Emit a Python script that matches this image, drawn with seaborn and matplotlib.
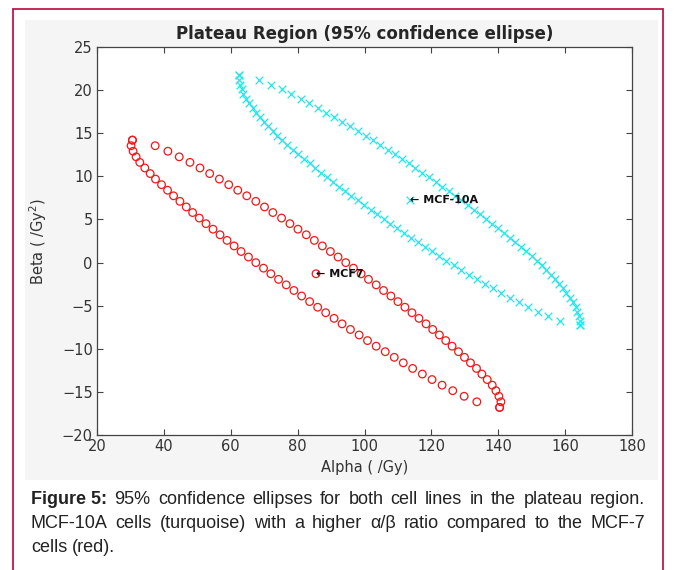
import matplotlib
matplotlib.use("Agg")
import matplotlib.pyplot as plt
from matplotlib.lines import Line2D
from matplotlib.patches import Rectangle
import seaborn as sns

# ---- data (95% confidence ellipse outlines) ----
mcf7_beta = [-16.80, -16.15, -15.51, -14.86, -14.22, -13.57, -12.93, -12.28, -11.63, -10.99,
             -10.34, -9.70, -9.05, -8.40, -7.76, -7.11, -6.47, -5.82, -5.18, -4.53,
             -3.88, -3.24, -2.59, -1.95, -1.30, -0.65, -0.01, 0.64, 1.28, 1.93,
             2.57, 3.22, 3.87, 4.51, 5.16, 5.80, 6.45, 7.10, 7.74, 8.39,
             9.03, 9.68, 10.32, 10.97, 11.62, 12.26, 12.91, 13.55, 14.20]
mcf7_alpha_left = [140.4, 133.6, 129.8, 126.4, 123.2, 120.2, 117.3, 114.4, 111.6, 108.9,
                   106.2, 103.5, 100.9, 98.4, 95.8, 93.3, 90.9, 88.4, 86.0, 83.6,
                   81.2, 78.9, 76.6, 74.3, 72.0, 69.8, 67.5, 65.3, 63.1, 61.0,
                   58.9, 56.8, 54.7, 52.6, 50.6, 48.6, 46.7, 44.8, 42.9, 41.1,
                   39.3, 37.5, 35.9, 34.3, 32.8, 31.7, 30.8, 30.2, 30.6]
mcf7_alpha_right = [140.4, 140.8, 140.2, 139.3, 138.2, 136.7, 135.1, 133.5, 131.7, 129.9,
                    128.1, 126.2, 124.3, 122.4, 120.4, 118.4, 116.3, 114.2, 112.1, 110.0,
                    107.9, 105.7, 103.5, 101.2, 99.0, 96.7, 94.4, 92.1, 89.8, 87.4,
                    85.0, 82.6, 80.1, 77.7, 75.2, 72.6, 70.1, 67.5, 64.8, 62.1,
                    59.4, 56.6, 53.7, 50.8, 47.8, 44.6, 41.2, 37.4, 30.6]

mcf10a_beta = [-7.30, -6.76, -6.23, -5.69, -5.15, -4.61, -4.08, -3.54, -3.00, -2.47,
               -1.93, -1.39, -0.86, -0.32, 0.22, 0.76, 1.29, 1.83, 2.37, 2.90,
               3.44, 3.98, 4.51, 5.05, 5.59, 6.13, 6.66, 7.20, 7.74, 8.27,
               8.81, 9.35, 9.89, 10.42, 10.96, 11.50, 12.03, 12.57, 13.11, 13.64,
               14.18, 14.72, 15.26, 15.79, 16.33, 16.87, 17.40, 17.94, 18.48, 19.01,
               19.55, 20.09, 20.63, 21.16, 21.70]
mcf10a_alpha_left = [164.5, 158.5, 154.9, 151.8, 148.9, 146.1, 143.5, 140.9, 138.4, 136.0,
                     133.6, 131.3, 129.0, 126.7, 124.5, 122.3, 120.1, 118.0, 115.9, 113.8,
                     111.8, 109.7, 107.7, 105.7, 103.8, 101.8, 99.9, 98.0, 96.1, 94.3,
                     92.4, 90.6, 88.8, 87.0, 85.3, 83.6, 81.9, 80.2, 78.6, 76.9,
                     75.3, 73.8, 72.6, 71.2, 69.9, 68.7, 67.6, 66.6, 65.5, 64.5,
                     63.8, 63.3, 62.9, 62.6, 62.5]
mcf10a_alpha_right = [164.5, 164.4, 164.1, 163.7, 163.2, 162.5, 161.5, 160.4, 159.4, 158.3,
                      157.1, 155.8, 154.4, 153.2, 151.7, 150.1, 148.4, 146.8, 145.1, 143.4,
                      141.7, 140.0, 138.2, 136.4, 134.6, 132.7, 130.9, 129.0, 127.1, 125.2,
                      123.2, 121.3, 119.3, 117.3, 115.2, 113.2, 111.1, 109.0, 106.9, 104.7,
                      102.5, 100.3, 98.0, 95.7, 93.4, 91.0, 88.6, 86.1, 83.5, 80.9,
                      78.1, 75.2, 72.1, 68.5, 62.5]

# ellipse centres (best estimates) and their labels
centre_alpha = [85.5, 113.5]
centre_beta = [-1.3, 7.2]
centre_labels = ['\u2190 MCF7', '\u2190 MCF-10A']

x_ticks = [20, 40, 60, 80, 100, 120, 140, 160, 180]
y_ticks = [-20, -15, -10, -5, 0, 5, 10, 15, 20, 25]

title = 'Plateau Region (95% confidence ellipse)'
x_label = 'Alpha ( /Gy)'
y_label = 'Beta ( /Gy$^2$)'
caption_lines = ['Figure 5: 95% confidence ellipses for both cell lines in the plateau region.',
                 'MCF-10A cells (turquoise) with a higher \u03b1/\u03b2 ratio compared to the MCF-7',
                 'cells (red).']

# ---- figure ----
RED = '#f01818'
CYAN = '#22e6ea'
W, H = 677, 570
sns.set_theme(style="white")
plt.rcParams['font.family'] = ['DejaVu Sans']
fig = plt.figure(figsize=(W/100, H/100), dpi=100)
fig.patch.set_facecolor('white')
fig.patches.append(Rectangle((25/W, 1-480/H), (658-25)/W, (480-20)/H, transform=fig.transFigure,
                             facecolor='#f5f5f5', edgecolor='none', zorder=-5))
for (x0, y0, x1, y1) in [(13, 9, 13, 570), (13, 9, 663, 9), (663, 9, 663, 570)]:
    fig.lines.append(Line2D([x0/W, x1/W], [1-y0/H, 1-y1/H], transform=fig.transFigure,
                            color='#c2184b', linewidth=1.3))

ax = fig.add_axes([97/W, 1-435/H, (632-97)/W, (435-47)/H])
ax.set_facecolor('white')
sns.scatterplot(x=mcf7_alpha_left + mcf7_alpha_right, y=mcf7_beta + mcf7_beta,
                marker='o', s=30, facecolor='none', edgecolor=RED, linewidth=0.9, ax=ax)
sns.scatterplot(x=mcf10a_alpha_left + mcf10a_alpha_right, y=mcf10a_beta + mcf10a_beta,
                marker='x', s=30, color=CYAN, linewidth=0.9, ax=ax)
sns.scatterplot(x=centre_alpha[:1], y=centre_beta[:1], marker='o', s=30, facecolor='none',
                edgecolor=RED, linewidth=0.9, ax=ax)
sns.scatterplot(x=centre_alpha[1:], y=centre_beta[1:], marker='x', s=30, color=CYAN,
                linewidth=0.9, ax=ax)
for a, b, lab in zip(centre_alpha, centre_beta, centre_labels):
    ax.text(a, b, lab, fontsize=8, fontweight='bold', ha='left', va='center', color='#111')

ax.set_xlim(20, 180)
ax.set_ylim(-20, 25)
ax.set_xticks(x_ticks)
ax.set_yticks(y_ticks)
ax.tick_params(direction='in', length=4, width=0.8, color='#444', labelcolor='#333', labelsize=10.5,
               top=True, right=True, bottom=True, left=True, pad=3)
for s in ax.spines.values():
    s.set_color('#444')
    s.set_linewidth(0.9)
ax.set_xlabel(x_label, fontsize=10.5, color='#333', labelpad=4)
ax.set_ylabel(y_label, fontsize=10.5, color='#333', labelpad=9)
ax.set_title(title, fontsize=12, fontweight='bold', pad=6)

# ---- caption (justified like the reference) ----
cap_font = ['Liberation Sans', 'DejaVu Sans']
fig.canvas.draw()
r = fig.canvas.get_renderer()

def place_line(parts, ypix, x0, x1, just=True):
    ts = [fig.text(0, 1-ypix/H, w, fontsize=13, fontweight=wt, family=cap_font, color='#222',
                   va='center', ha='left') for w, wt in parts]
    ws = [t.get_window_extent(r).width for t in ts]
    gap = (x1-x0-sum(ws))/(len(ts)-1) if just else 5.0
    x = x0
    for t, w in zip(ts, ws):
        t.set_x(x/W)
        x += w + gap

words1 = caption_lines[0].split()
line1 = [(' '.join(words1[:2]), 'bold')] + [(w, 'normal') for w in words1[2:]]
line2 = [(w, 'normal') for w in caption_lines[1].split()]
line3 = [(w, 'normal') for w in caption_lines[2].split()]
place_line(line1, 499, 31, 645)
place_line(line2, 523, 31, 645)
place_line(line3, 547, 31, 645, just=False)

fig.savefig("out.png", dpi=100)
